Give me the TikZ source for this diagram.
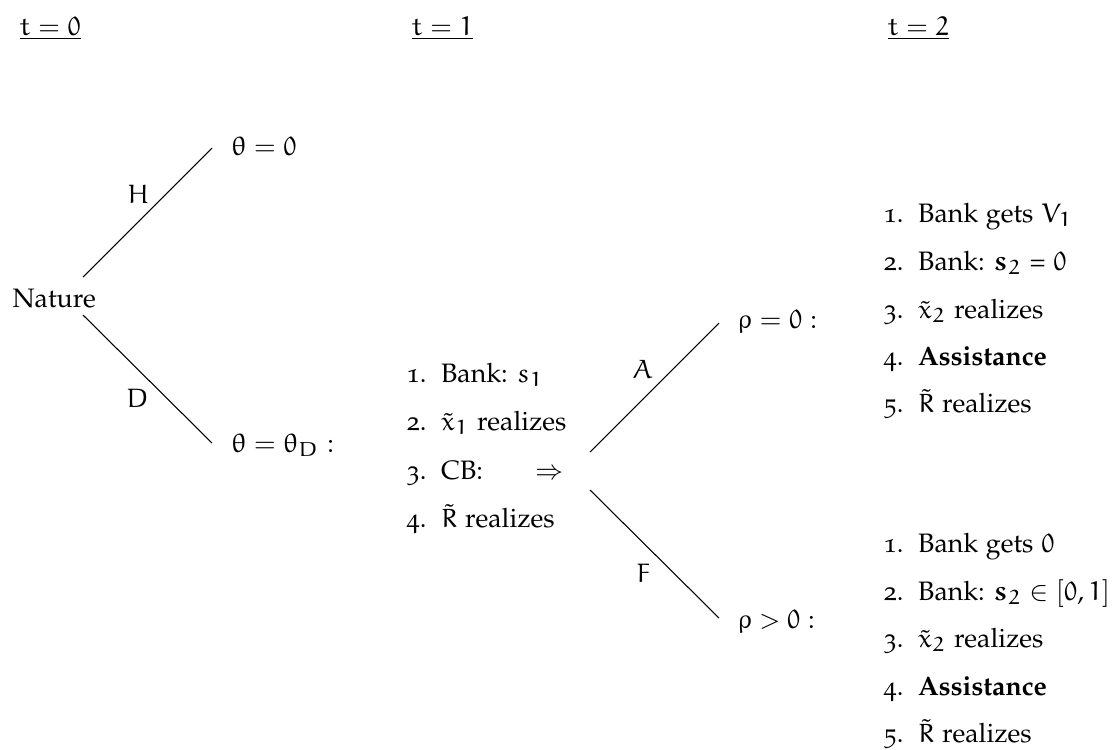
\documentclass[tikz,border=0pt]{standalone}
\usepackage[T1]{fontenc}
\usepackage[osf]{mathpazo}
\usepackage{amsmath}
\DeclareFontFamily{U}{eur}{\skewchar\font'177}
\DeclareFontShape{U}{eur}{m}{n}{<-6>eurm5<6-8>eurm7<8->eurm10}{}
\DeclareFontShape{U}{eur}{b}{n}{<-6>eurb5<6-8>eurb7<8->eurb10}{}
\DeclareSymbolFont{letters}{U}{eur}{m}{n}
\SetSymbolFont{letters}{bold}{U}{eur}{b}{n}
\DeclareMathSymbol{\theta}{\mathord}{letters}{"12}
\DeclareMathSymbol{\rho}{\mathord}{letters}{"1A}
\DeclareMathSymbol{0}{\mathalpha}{letters}{"30}
\DeclareMathSymbol{1}{\mathalpha}{letters}{"31}
\DeclareMathSymbol{2}{\mathalpha}{letters}{"32}
\newcommand{\itm}[1]{\makebox[13pt][l]{#1}}
\begin{document}
\begin{tikzpicture}[x=0.375pt,y=-0.375pt,
  txt/.style={inner sep=0pt, anchor=base west},
  branch/.style={draw=black, line width=0.4pt}]
\useasboundingbox (0,0) rectangle (1112,749);
% time labels
\node[txt] (t0) at (19,35) {\underline{$t=0$}};
\node[txt] (t1) at (411,35) {\underline{$t=1$}};
\node[txt] (t2) at (887,35) {\underline{$t=2$}};
% nature
\node[txt] (nature) at (12,307) {Nature};
\node[txt] (th0) at (231,155) {$\theta=0$};
\node[txt] (thD) at (231,452) {$\theta=\theta_D:$};
\coordinate (natH) at (83,277);
\coordinate (natD) at (83,315);
\coordinate (endH) at (212,148);
\coordinate (endD) at (212,443);
\draw[branch] (natH) -- (endH);
\draw[branch] (natD) -- (endD);
\node[txt] (lH) at (127,203) {$H$};
\node[txt] (lD) at (126,407) {$D$};
% middle list
\node[txt] (m1) at (406,382) {\itm{1.}Bank: $s_1$};
\node[txt] (m2) at (406,430) {\itm{2.}$\tilde{x}_1$ realizes};
\node[txt] (m3) at (406,479) {\itm{3.}CB:\hspace{19.5pt}$\Rightarrow$};
\node[txt] (m4) at (406,527) {\itm{4.}$\tilde{R}$ realizes};
\coordinate (cbA) at (590,452);
\coordinate (cbF) at (590,490);
\coordinate (endA) at (719,323);
\coordinate (endF) at (719,618);
\draw[branch] (cbA) -- (endA);
\draw[branch] (cbF) -- (endF);
\node[txt] (lA) at (632,378) {$A$};
\node[txt] (lF) at (636,582) {$F$};
\node[txt] (rho0) at (737,328) {$\rho=0:$};
\node[txt] (rhoP) at (737,628) {$\rho>0:$};
% right top list
\node[txt] (a1) at (883,222) {\itm{1.}Bank gets $V_1$};
\node[txt] (a2) at (883,270) {\itm{2.}Bank: $\boldsymbol{s}_2$ = $0$};
\node[txt] (a3) at (883,318) {\itm{3.}$\tilde{x}_2$ realizes};
\node[txt] (a4) at (883,365) {\itm{4.}\textbf{Assistance}};
\node[txt] (a5) at (883,412) {\itm{5.}$\tilde{R}$ realizes};
% right bottom list
\node[txt] (b1) at (883,552) {\itm{1.}Bank gets $0$};
\node[txt] (b2) at (883,600) {\itm{2.}Bank: $\boldsymbol{s}_2\in[0,1]$};
\node[txt] (b3) at (883,647) {\itm{3.}$\tilde{x}_2$ realizes};
\node[txt] (b4) at (883,695) {\itm{4.}\textbf{Assistance}};
\node[txt] (b5) at (883,742) {\itm{5.}$\tilde{R}$ realizes};
\end{tikzpicture}
\end{document}
